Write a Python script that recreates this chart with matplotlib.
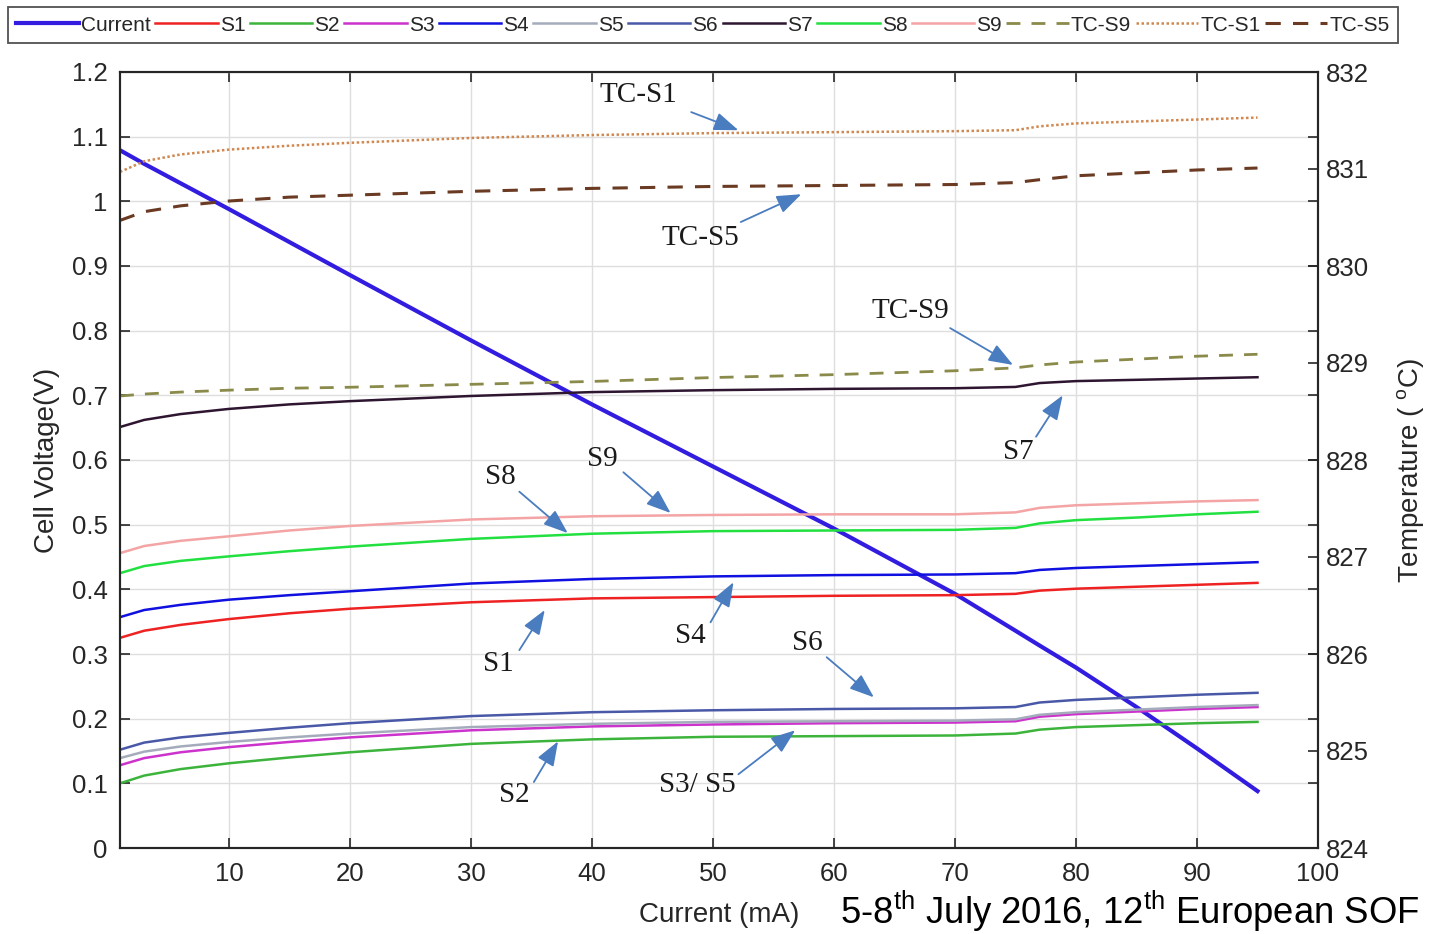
import matplotlib
matplotlib.use('Agg')
import matplotlib.pyplot as plt
from matplotlib.ticker import FuncFormatter

# current (mA) sample points
x = [1, 3, 6, 10, 15, 20, 30, 40, 50, 60, 70, 75, 77, 80, 85, 90, 95]

current = [1.079, 1.058, 1.028, 0.988, 0.937, 0.886, 0.785, 0.686, 0.590,
           0.494, 0.393, 0.336, 0.313, 0.279, 0.218, 0.154, 0.088]
s1 = [0.325, 0.336, 0.345, 0.354, 0.363, 0.370, 0.380, 0.386, 0.388,
      0.390, 0.391, 0.393, 0.398, 0.401, 0.404, 0.407, 0.410]
s2 = [0.100, 0.112, 0.122, 0.131, 0.140, 0.148, 0.161, 0.168, 0.172,
      0.173, 0.174, 0.177, 0.183, 0.187, 0.190, 0.193, 0.195]
s3 = [0.128, 0.139, 0.148, 0.156, 0.164, 0.171, 0.182, 0.188, 0.191,
      0.193, 0.194, 0.196, 0.203, 0.207, 0.211, 0.215, 0.218]
s4 = [0.357, 0.368, 0.376, 0.384, 0.391, 0.397, 0.409, 0.416, 0.420,
      0.422, 0.423, 0.425, 0.430, 0.433, 0.436, 0.439, 0.442]
s5 = [0.139, 0.149, 0.157, 0.164, 0.171, 0.177, 0.187, 0.192, 0.195,
      0.196, 0.197, 0.199, 0.206, 0.210, 0.214, 0.218, 0.221]
s6 = [0.152, 0.163, 0.171, 0.178, 0.186, 0.193, 0.204, 0.210, 0.213,
      0.215, 0.216, 0.218, 0.225, 0.229, 0.233, 0.237, 0.240]
s7 = [0.651, 0.662, 0.671, 0.679, 0.686, 0.691, 0.699, 0.705, 0.708,
      0.710, 0.711, 0.713, 0.719, 0.722, 0.724, 0.726, 0.728]
s8 = [0.425, 0.436, 0.444, 0.451, 0.459, 0.466, 0.478, 0.486, 0.490,
      0.491, 0.492, 0.495, 0.502, 0.507, 0.511, 0.516, 0.520]
s9 = [0.456, 0.467, 0.475, 0.482, 0.491, 0.498, 0.508, 0.513, 0.515,
      0.516, 0.516, 0.519, 0.526, 0.530, 0.533, 0.536, 0.538]

# thermocouple temperatures (deg C)
tc_s9 = [828.66, 828.68, 828.70, 828.72, 828.74, 828.75, 828.78, 828.81, 828.85,
         828.88, 828.92, 828.95, 828.98, 829.01, 829.04, 829.07, 829.09]
tc_s1 = [830.97, 831.08, 831.15, 831.20, 831.24, 831.27, 831.32, 831.35, 831.37,
         831.38, 831.39, 831.40, 831.44, 831.47, 831.49, 831.51, 831.53]
tc_s5 = [830.47, 830.56, 830.62, 830.67, 830.71, 830.73, 830.77, 830.80, 830.82,
         830.83, 830.84, 830.86, 830.89, 830.93, 830.96, 830.99, 831.01]

volt_ticks = [i / 10 for i in range(13)]
temp_ticks = list(range(824, 833))
x_ticks = list(range(10, 101, 10))

plt.rcParams['font.family'] = 'Liberation Sans'
plt.rcParams['mathtext.fontset'] = 'custom'
plt.rcParams['mathtext.rm'] = 'Liberation Sans'
plt.rcParams['mathtext.it'] = 'Liberation Sans:italic'

dark = '#262626'
fig = plt.figure(figsize=(14.3, 9.34), dpi=100)
ax = fig.add_axes([120/1430, 1-848/934, 1198/1430, 776/934])
ax2 = ax.twinx()

ax.plot(x, current, color='#321ce0', lw=3.0, label='Current')
ax.plot(x, s1, color='#ee2222', lw=1.8, label='S1')
ax.plot(x, s2, color='#3cb43c', lw=1.8, label='S2')
ax.plot(x, s3, color='#cc33cc', lw=1.8, label='S3')
ax.plot(x, s4, color='#1010e0', lw=1.8, label='S4')
ax.plot(x, s5, color='#a4acbc', lw=1.8, label='S5')
ax.plot(x, s6, color='#4a58a8', lw=1.8, label='S6')
ax.plot(x, s7, color='#2e1530', lw=1.8, label='S7')
ax.plot(x, s8, color='#22e040', lw=1.8, label='S8')
ax.plot(x, s9, color='#f4a4a4', lw=1.8, label='S9')
ax2.plot(x, tc_s9, color='#8a8a4a', lw=2.0, ls=(0, (5, 4)), label='TC-S9')
ax2.plot(x, tc_s1, color='#d08850', lw=1.8, ls=(0, (1, 1)), label='TC-S1')
ax2.plot(x, tc_s5, color='#6a3a22', lw=2.2, ls=(0, (5, 4)), label='TC-S5')

ax.set_xlim(1, 100)
ax.set_ylim(0, 1.2)
ax2.set_ylim(824, 832)
ax.set_xticks(x_ticks)
ax.set_yticks(volt_ticks)
ax2.set_yticks(temp_ticks)
ax.yaxis.set_major_formatter(FuncFormatter(lambda v, p: '%g' % round(v, 2)))
ax.grid(True, color='#dedede', lw=1)
ax.set_axisbelow(True)

ax.tick_params(direction='in', length=7, width=1.2, color=dark, labelcolor=dark,
               labelsize=18.5, top=True, right=True)
ax.tick_params(axis='x', pad=10)
ax.tick_params(axis='y', pad=9)
ax2.tick_params(direction='in', length=7, width=1.2, color=dark, labelcolor=dark,
                labelsize=18.5, pad=6)
for a in (ax, ax2):
    for sp in a.spines.values():
        sp.set_color(dark)
        sp.set_linewidth(1.5)

ax.set_xlabel('Current (mA)', fontsize=20, color=dark)
ax.xaxis.set_label_coords(0.5, -0.07)
ax.set_ylabel('Cell Voltage(V)', fontsize=20, color=dark, va='center')
ax.yaxis.set_label_coords(-0.061, 0.5)
ax2.set_ylabel('Temperature ( $^{\\mathrm{o}}$C)', fontsize=20, color=dark, va='center')
ax2.yaxis.set_label_coords(1.077, 0.486)

# labels with arrows: text pos, arrow tail, arrow head
notes = [
    ('TC-S1', (43.8, 1.164), (48.2, 1.138), (52.1, 1.110)),
    ('TC-S5', (49.0, 0.943), (52.3, 0.968), (57.3, 1.011)),
    ('TC-S9', (66.3, 0.830), (69.6, 0.804), (74.8, 0.747)),
    ('S7', (75.2, 0.612), (76.7, 0.636), (78.9, 0.700)),
    ('S9', (40.9, 0.601), (42.6, 0.581), (46.5, 0.518)),
    ('S8', (32.4, 0.574), (34.0, 0.551), (38.0, 0.487)),
    ('S1', (32.3, 0.285), (34.0, 0.306), (36.1, 0.368)),
    ('S4', (48.1, 0.328), (49.8, 0.349), (51.7, 0.411)),
    ('S6', (57.8, 0.317), (59.4, 0.295), (63.3, 0.233)),
    ('S2', (33.6, 0.082), (35.2, 0.102), (37.2, 0.165)),
    ('S3/ S5', (48.7, 0.097), (52.1, 0.114), (56.8, 0.182)),
]
for name, tpos, tail, head in notes:
    ax2.text(tpos[0], 824 + tpos[1] / 1.2 * 8, name, family='Liberation Serif',
             fontsize=21, color='#1a1a1a', ha='center', va='center')
    ax2.annotate('', xy=(head[0], 824 + head[1] / 1.2 * 8),
                 xytext=(tail[0], 824 + tail[1] / 1.2 * 8),
                 arrowprops=dict(arrowstyle='-|>,head_length=0.75,head_width=0.28',
                                 color='#4a7cc0', lw=1.3, mutation_scale=20,
                                 shrinkA=0, shrinkB=0))

h1, l1 = ax.get_legend_handles_labels()
h2, l2 = ax2.get_legend_handles_labels()
leg = fig.legend(h1 + h2, l1 + l2, loc='lower left', ncol=13, mode='expand',
                 bbox_to_anchor=(8/1430, 1-43/934, 1390/1430, 38/934),
                 borderaxespad=0, fancybox=False, edgecolor=dark,
                 handlelength=3.0, handletextpad=0.1, columnspacing=0.5,
                 prop={'family': ['Liberation Sans Narrow', 'Liberation Sans'], 'size': 15})
leg.get_frame().set_linewidth(1.3)
for t in leg.get_texts():
    t.set_color(dark)

fig.text(840/1430, 10/934, '5-8$^{\\mathrm{th}}$ July 2016, 12$^{\\mathrm{th}}$ European SOF',
         fontsize=26.3, ha='left', va='baseline', color='black')

fig.savefig('out.png', dpi=100)
